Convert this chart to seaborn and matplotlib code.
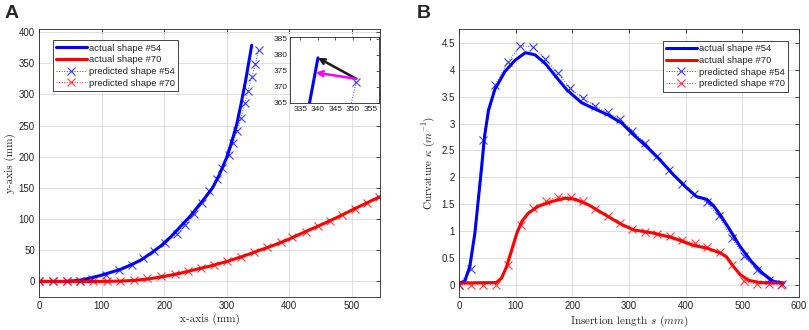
import numpy as np
import pandas as pd
import matplotlib
matplotlib.use('Agg')
import matplotlib.pyplot as plt
from matplotlib.lines import Line2D
from matplotlib.ticker import FormatStrFormatter
import seaborn as sns

# %% data, panel A (shape in x-y plane, mm)

a54_x = [0, 40, 63, 80, 100, 116, 132, 148, 164, 180, 196, 212, 228, 241, 254, 266,
         278, 289, 300, 308, 316, 323, 330, 335, 340]
a54_y = [0, 0, 1.5, 5, 10, 15, 20, 27, 35, 46, 58, 73, 90, 104, 120, 135,
         151, 173, 199, 224, 252, 285, 321, 350, 379]

a70_x = [0, 50, 100, 130, 150, 175, 200, 225, 250, 275, 300, 325, 350, 375, 400,
         425, 450, 475, 500, 525, 545]
a70_y = [0, 0, 0, 0.5, 1.5, 4, 8, 13, 19, 25, 32, 40, 49, 58, 68,
         79.5, 90.5, 102, 114.5, 126.5, 136]

p54_x = [0, 22, 44, 65.5, 85, 106.5, 128, 148, 167, 184, 202, 220, 234, 248, 260,
         272, 284, 293, 304, 310, 317, 323, 329, 334, 340, 346, 351]
p54_y = [0, 0, 0, 1, 4.5, 11, 18, 27, 38, 49, 62, 76, 91, 108, 126,
         145, 164, 182, 203, 222, 242, 263, 286, 306, 328, 349, 371.5]

p70_x = [0, 22, 44, 65, 87, 108, 130, 152, 173, 195, 217, 238, 259, 280, 301,
         323, 344, 365, 386, 405, 426, 446, 465, 485, 505, 524, 544]
p70_y = [0, 0, 0, 0, 0.5, 0.5, 1, 3, 5, 8, 12, 16, 21, 26, 33,
         39, 47, 55, 63, 71, 80, 89, 97, 107, 117, 126, 136]

# %% data, panel B (curvature along insertion length)

k54_s = [0, 10, 19, 28, 34, 40, 45, 52, 63, 81, 99, 117, 134, 152, 169, 190, 216,
         240, 263, 287, 308, 331, 355, 378, 402, 419, 437, 449, 461, 478, 496,
         516, 537, 555, 572]
k54_k = [0.03, 0.06, 0.34, 0.96, 1.58, 2.2, 2.76, 3.25, 3.63, 3.97, 4.18, 4.32,
         4.28, 4.12, 3.90, 3.63, 3.39, 3.27, 3.16, 3.01, 2.79, 2.57, 2.32, 2.05,
         1.80, 1.64, 1.59, 1.47, 1.30, 1.02, 0.71, 0.43, 0.20, 0.06, 0.03]

k70_s = [0, 66, 75, 84, 93, 102, 111, 122, 140, 164, 187, 205, 228, 258, 287, 308,
         343, 378, 414, 437, 461, 472, 484, 496, 511, 531, 572]
k70_k = [0.03, 0.04, 0.12, 0.34, 0.65, 0.96, 1.18, 1.33, 1.46, 1.55, 1.61, 1.59,
         1.49, 1.30, 1.12, 1.02, 0.96, 0.87, 0.73, 0.68, 0.59, 0.52, 0.34, 0.19,
         0.08, 0.04, 0.03]

q54_s = [0, 21, 43, 64, 86, 108, 130, 152, 174, 196, 218, 240, 262, 284, 306,
         328, 350, 371, 393, 415, 437, 459, 481, 503, 525, 547, 570]
q54_k = [0, 0.3, 2.70, 3.72, 4.15, 4.45, 4.43, 4.21, 3.94, 3.66, 3.47, 3.33, 3.21,
         3.08, 2.87, 2.64, 2.40, 2.13, 1.87, 1.68, 1.53, 1.27, 0.87, 0.53, 0.27,
         0.09, 0.01]

q70_s = [0, 21, 43, 65, 87, 109, 131, 153, 175, 197, 218, 240, 262, 284, 306,
         328, 350, 372, 394, 416, 438, 460, 481, 503, 525, 547, 569]
q70_k = [0, 0, 0, 0, 0.37, 1.12, 1.42, 1.56, 1.64, 1.64, 1.55, 1.41, 1.27, 1.14,
         1.04, 0.98, 0.95, 0.90, 0.84, 0.77, 0.70, 0.61, 0.36, 0.06, 0.01, 0.01, 0]

labels = ['actual shape #54', 'actual shape #70',
          'predicted shape #54', 'predicted shape #70']

BLUE = '#0000ff'
RED = '#ff0000'

# %% style

sns.set_theme(style='white')
plt.rcParams['font.family'] = ['Liberation Sans', 'DejaVu Sans']
plt.rcParams['mathtext.fontset'] = 'cm'
plt.rcParams['axes.edgecolor'] = '#262626'
plt.rcParams['axes.linewidth'] = 0.6
plt.rcParams['xtick.color'] = '#262626'
plt.rcParams['ytick.color'] = '#262626'

actual_kw = dict(lw=2.2, sort=False)
pred_kw = dict(lw=0.7, ls=':', marker='x', markersize=6, markeredgewidth=0.8,
               alpha=0.75, sort=False)


def matlab_axes(ax, size=7):
    ax.tick_params(direction='in', top=True, right=True, length=3, width=0.6,
                   labelsize=size, pad=3)
    ax.grid(True, color='#dedede', lw=0.7)
    ax.set_axisbelow(True)
    for sp in ax.spines.values():
        sp.set_visible(True)


def legend(ax, anchor, loc):
    pred = dict(lw=0.7, ls=':', marker='x', ms=6, mew=0.8, alpha=0.75)
    handles = [Line2D([], [], color=BLUE, lw=2.2),
               Line2D([], [], color=RED, lw=2.2),
               Line2D([], [], color=BLUE, **pred),
               Line2D([], [], color=RED, **pred)]
    leg = ax.legend(handles, labels, loc=loc, bbox_to_anchor=anchor, fontsize=6.8,
                    handlelength=3.3, handletextpad=0.2, labelspacing=0.28,
                    borderpad=0.35, fancybox=False, framealpha=1,
                    edgecolor='#262626')
    leg.get_frame().set_linewidth(0.6)


fig = plt.figure(figsize=(8.09, 3.30), dpi=100)

# %% panel A

ax1 = fig.add_axes([0.0482, 0.1, 0.4215, 0.812])
sns.lineplot(x=a54_x, y=a54_y, color=BLUE, ax=ax1, **actual_kw)
sns.lineplot(x=a70_x, y=a70_y, color=RED, ax=ax1, **actual_kw)
sns.lineplot(x=p54_x, y=p54_y, color=BLUE, markeredgecolor=BLUE, ax=ax1, **pred_kw)
sns.lineplot(x=p70_x, y=p70_y, color=RED, markeredgecolor=RED, ax=ax1, **pred_kw)
ax1.set_xlim(0, 545)
ax1.set_ylim(-25, 405)
ax1.set_xticks(np.arange(0, 501, 100))
ax1.set_yticks(np.arange(0, 401, 50))
matlab_axes(ax1)
ax1.set_xlabel('x-axis (mm)', family='cmr10', fontsize=8, labelpad=2)
ax1.set_ylabel('y-axis (mm)', family='cmr10', fontsize=8, labelpad=2)
legend(ax1, (0.026, 0.975), 'upper left')

# inset: tip error
axi = fig.add_axes([0.3585, 0.688, 0.110, 0.2])
sns.lineplot(x=a54_x, y=a54_y, color=BLUE, ax=axi, **actual_kw)
sns.lineplot(x=p54_x, y=p54_y, color=BLUE, markeredgecolor=BLUE, ax=axi, **pred_kw)
axi.set_xlim(332, 357.5)
axi.set_ylim(365, 385.5)
axi.set_xticks(np.arange(335, 356, 5))
axi.set_yticks(np.arange(365, 386, 5))
axi.tick_params(direction='in', top=True, right=True, length=2, width=0.5,
                labelsize=6, pad=2)
axi.grid(False)
for sp in axi.spines.values():
    sp.set_visible(True)

tip_pred = np.array([p54_x[-1], p54_y[-1]])
tip_act = np.array([a54_x[-1], a54_y[-1]])
seg0 = np.array([a54_x[-3], a54_y[-3]])
d = (tip_act - seg0) / np.linalg.norm(tip_act - seg0)
proj = tip_act + d * np.dot(tip_pred - tip_act, d)
axi.annotate('', xy=tip_act, xytext=tip_pred + [0, 1],
             arrowprops=dict(arrowstyle='->', color='k', lw=1.8,
                             shrinkA=0, shrinkB=0, mutation_scale=9))
axi.annotate('', xy=proj + [0.3, 0.9], xytext=tip_pred + [0, 1],
             arrowprops=dict(arrowstyle='->', color='#ff00ff', lw=1.8,
                             shrinkA=0, shrinkB=0, mutation_scale=9))

# %% panel B

ax2 = fig.add_axes([0.5674, 0.1, 0.4203, 0.812])
sns.lineplot(x=k54_s, y=k54_k, color=BLUE, ax=ax2, **actual_kw)
sns.lineplot(x=k70_s, y=k70_k, color=RED, ax=ax2, **actual_kw)
sns.lineplot(x=q54_s, y=q54_k, color=BLUE, markeredgecolor=BLUE, ax=ax2, **pred_kw)
sns.lineplot(x=q70_s, y=q70_k, color=RED, markeredgecolor=RED, ax=ax2, **pred_kw)
ax2.set_xlim(0, 600)
ax2.set_ylim(-0.23, 4.76)
ax2.set_xticks(np.arange(0, 601, 100))
ax2.set_yticks(np.arange(0, 4.6, 0.5))
ax2.yaxis.set_major_formatter(FormatStrFormatter('%g'))
matlab_axes(ax2)
ax2.set_xlabel('Insertion length $s$ $(mm)$', family='cmr10', fontsize=8, labelpad=2)
ax2.set_ylabel('Curvature $\\kappa$ $(m^{-1})$', family='cmr10', fontsize=8,
               labelpad=3)
legend(ax2, (0.982, 0.973), 'upper right')

fig.text(0.006, 0.985, 'A', fontsize=14, fontweight='bold', va='top', ha='left')
fig.text(0.515, 0.985, 'B', fontsize=14, fontweight='bold', va='top', ha='left')

plt.savefig('out.png', dpi=100)
